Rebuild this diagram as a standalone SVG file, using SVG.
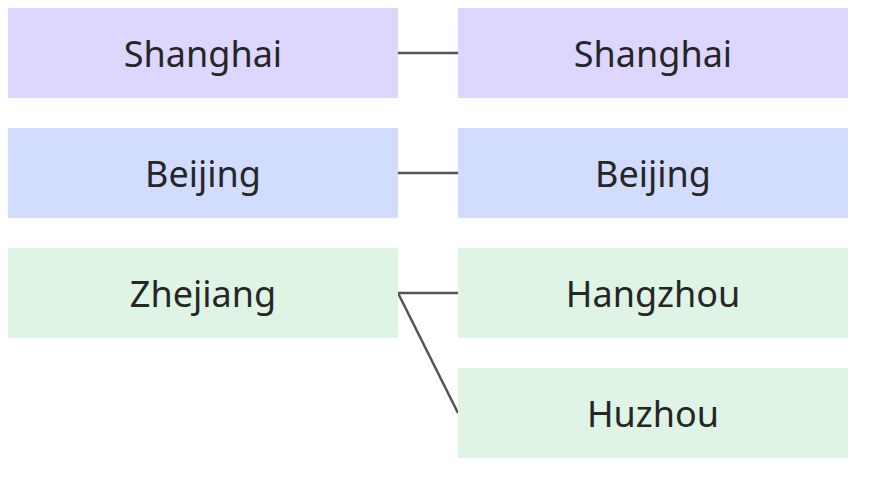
<svg xmlns="http://www.w3.org/2000/svg" width="891" height="501" viewBox="0 0 891 501">
<style>
.t{font-family:"Noto Sans","Liberation Sans",sans-serif;font-size:36px;fill:#262626;text-anchor:middle;dominant-baseline:central}
.p{fill:#ddd6fe}.b{fill:#d2dcfe}.g{fill:#dff4e4}
.c{stroke:#555;stroke-width:2.5;fill:none}
</style>
<rect width="891" height="501" fill="#fff"/>
<g id="connectors">
<path class="c" d="M398 53H458"/>
<path class="c" d="M398 173H458"/>
<path class="c" d="M398 293H458"/>
<path class="c" d="M398 293L458 413"/>
</g>
<g id="l-shanghai"><rect class="p" x="8" y="8" width="390" height="90"/><text class="t" x="203" y="53">Shanghai</text></g>
<g id="l-beijing"><rect class="b" x="8" y="128" width="390" height="90"/><text class="t" x="203" y="173">Beijing</text></g>
<g id="l-zhejiang"><rect class="g" x="8" y="248" width="390" height="90"/><text class="t" x="203" y="293">Zhejiang</text></g>
<g id="r-shanghai"><rect class="p" x="458" y="8" width="390" height="90"/><text class="t" x="653" y="53">Shanghai</text></g>
<g id="r-beijing"><rect class="b" x="458" y="128" width="390" height="90"/><text class="t" x="653" y="173">Beijing</text></g>
<g id="r-hangzhou"><rect class="g" x="458" y="248" width="390" height="90"/><text class="t" x="653" y="293">Hangzhou</text></g>
<g id="r-huzhou"><rect class="g" x="458" y="368" width="390" height="90"/><text class="t" x="653" y="413">Huzhou</text></g>
</svg>
